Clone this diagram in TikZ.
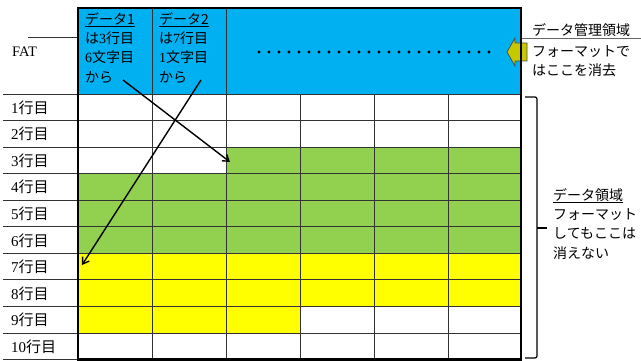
\documentclass[tikz,border=0pt]{standalone}
\usepackage{fontspec}
\setmainfont{Liberation Serif}
\newfontfamily\jp{Noto Sans CJK JP}
\usetikzlibrary{arrows.meta}
\definecolor{hdrblue}{HTML}{00B0F0}
\definecolor{datgreen}{HTML}{92D050}
\definecolor{datyellow}{HTML}{FFFF00}
\definecolor{blockolive}{HTML}{C8C800}
\begin{document}
\begin{tikzpicture}[x=1pt,y=-1pt,
  txt/.style={inner sep=0pt, anchor=west, font=\fontsize{14}{19.3}\selectfont, align=left},
  rowtxt/.style={inner sep=0pt, anchor=west, font=\fontsize{15}{18}\selectfont},
  gridline/.style={draw=black!80, line width=0.8pt},
  frameline/.style={draw=black, line width=2.5pt},
  pointer/.style={draw=black, line width=1.4pt, -{Straight Barb[length=6pt,width=8pt]}},
  blockarrow/.style={fill=blockolive, draw=black!70, line width=0.8pt},
  bracket/.style={draw=black, line width=1.2pt, rounded corners=2pt}]
\useasboundingbox (0,0) rectangle (641,361);
% fills
\fill[hdrblue] (78,8) rectangle (521,94);
\fill[datgreen] (226,147.1) rectangle (521,173.65);
\fill[datgreen] (78,173.65) rectangle (521,253.3);
\fill[datyellow] (78,253.3) rectangle (521,306.4);
\fill[datyellow] (78,306.4) rectangle (300,332.95);
% grid
\foreach \k in {0,...,10}{
  \pgfmathsetmacro\yy{94+26.55*\k}
  \draw[gridline] (3,\yy) -- (521,\yy);
}
\foreach \x in {152,226,300,374,448}{
  \draw[gridline] (\x,94) -- (\x,359.5);
}
\draw[gridline] (152,8) -- (152,94);
\draw[gridline] (226,8) -- (226,94);
\draw[gridline] (28,37) -- (78,37);
% dots
\draw[line width=3.2pt, line cap=round, dash pattern=on 0pt off 10pt] (259,52) -- (492,52);
% block arrow
\draw[blockarrow] (507,52) -- (515,38) -- (515,43) -- (527,43) -- (527,61) -- (515,61) -- (515,66) -- cycle;
% frame
\draw[frameline] (78,8) rectangle (521,359.5);
% left labels
\node[txt, font=\fontsize{14.5}{18}\selectfont] (fat) at (12,52) {FAT};
\foreach \k in {1,...,10}{
  \pgfmathsetmacro\yy{94+26.55*(\k-1)+13.6}
  \node[rowtxt] (row\k) at (11,\yy) {\k{\jp 行目}};
}
% header texts
\node[txt, anchor=north west] (d1) at (85,12) {{\jp\underline{データ1}}\\{\jp は}3{\jp 行目}\\6{\jp 文字目}\\{\jp から}};
\node[txt, anchor=north west] (d2) at (159,12) {{\jp\underline{データ2}}\\{\jp は}7{\jp 行目}\\1{\jp 文字目}\\{\jp から}};
% right texts
\node[txt] (mgmt) at (532,30) {\jp データ管理領域};
\draw[draw=black!60, line width=0.8pt] (522,38) -- (641,38);
\node[txt] (fmt1) at (532,61) {\jp フォーマットで\\\jp はここを消去};
\node[txt, anchor=north west] (darea) at (553,188) {{\jp\underline{データ領域}}\\{\jp フォーマット}\\{\jp してもここは}\\{\jp 消えない}};
% bracket
\draw[bracket] (525,97) -- (537,97) -- (537,358) -- (525,358);
\draw[draw=black, line width=1.2pt] (537,228) -- (547,228);
% pointers
\coordinate (p1s) at (123,80);
\coordinate (p1e) at (230,162);
\coordinate (p2s) at (201,80);
\coordinate (p2e) at (82,265);
\draw[pointer] (p1s) -- (p1e);
\draw[pointer] (p2s) -- (p2e);
\end{tikzpicture}
\end{document}
